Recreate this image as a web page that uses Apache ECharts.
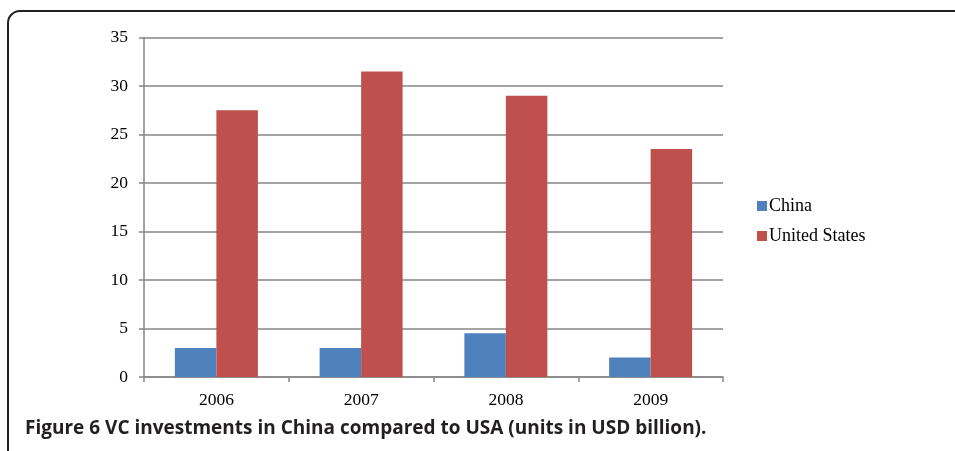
<!DOCTYPE html>
<html><head><meta charset="utf-8">
<script src="https://cdn.jsdelivr.net/npm/echarts@6/dist/echarts.min.js"></script>
<style>html,body{margin:0;padding:0;background:#fff}#c{width:955px;height:451px}</style>
</head><body><div id="c"></div>
<script>
const years = ['2006', '2007', '2008', '2009'];
const china = [3, 3, 4.5, 2];
const unitedStates = [27.5, 31.5, 29, 23.5];
const caption = 'Figure 6 VC investments in China compared to USA (units in USD billion).';

const chart = echarts.init(document.getElementById('c'));
const serif = '"Liberation Serif", "Times New Roman", serif';
chart.setOption({
  animation: false,
  backgroundColor: '#fff',
  grid: { left: 144, right: 232, top: 37.5, bottom: 74 },
  legend: {
    orient: 'vertical', left: 752, top: 192, itemGap: 12,
    itemWidth: 10, itemHeight: 10, icon: 'rect',
    textStyle: { fontFamily: serif, fontSize: 18, color: '#000', padding: [0,0,0,-3] },
    data: ['China', 'United States']
  },
  xAxis: {
    type: 'category', data: years,
    axisLine: { lineStyle: { color: '#868686', width: 1.5 } },
    axisTick: { show: true, length: 5, lineStyle: { color: '#868686', width: 1.5 } },
    axisLabel: { fontFamily: serif, fontSize: 17.5, color: '#000', margin: 14 }
  },
  yAxis: {
    type: 'value', min: 0, max: 35, interval: 5,
    axisLine: { show: true, lineStyle: { color: '#868686', width: 1.5 } },
    axisTick: { show: true, length: 5, lineStyle: { color: '#868686', width: 1.5 } },
    splitLine: { lineStyle: { color: '#868686', width: 1.5 } },
    axisLabel: { fontFamily: serif, fontSize: 17.5, color: '#000', margin: 16 }
  },
  series: [
    { name: 'China', type: 'bar', data: china, barWidth: 41.5, barGap: '0%',
      itemStyle: { color: '#4F81BD' } },
    { name: 'United States', type: 'bar', data: unitedStates, barWidth: 41.5,
      itemStyle: { color: '#C0504D' } }
  ],
  graphic: [
    { type: 'rect', shape: { x: 8, y: 11, width: 1100, height: 600, r: [12, 0, 0, 0] },
      style: { fill: 'none', stroke: '#231f20', lineWidth: 2 }, z: 100 },
    { type: 'text', left: 25, top: 419,
      style: { text: caption, fontFamily: '"Open Sans", "Noto Sans", sans-serif', fontWeight: 'bold', fontSize: 19, fill: '#231f20' } }
  ]
});
</script></body></html>
